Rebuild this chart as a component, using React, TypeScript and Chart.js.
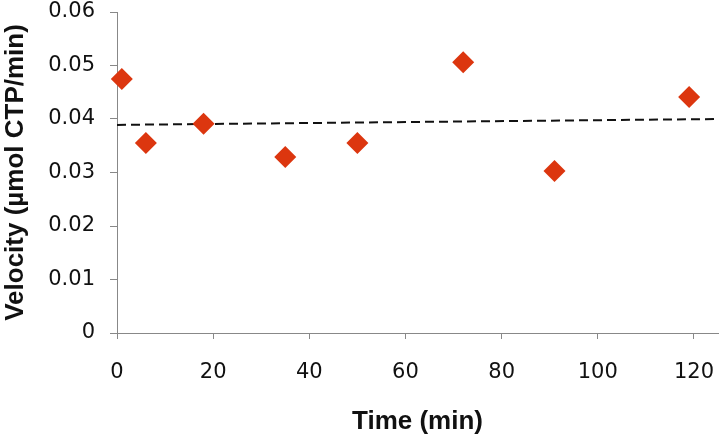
import React, { useEffect, useRef } from "react";
import { Chart, registerables } from "chart.js";

Chart.register(...registerables);

const timeMin = [1, 6, 18, 35, 50, 72, 91, 119];
const velocity = [0.0475, 0.0355, 0.0391, 0.0329, 0.0355, 0.0506, 0.0303, 0.0441];
const trendX = [0, 125];
const trendY = [0.0389, 0.04];
const yTicks = [0, 0.01, 0.02, 0.03, 0.04, 0.05, 0.06];
const xTicks = [0, 20, 40, 60, 80, 100, 120];

export default function App() {
  const ref = useRef<HTMLCanvasElement>(null);
  useEffect(() => {
    const ctx = ref.current!;
    const chart = new Chart(ctx, {
      type: "scatter",
      data: {
        datasets: [
          {
            label: "Velocity",
            data: timeMin.map((x, i) => ({ x, y: velocity[i] })),
            pointStyle: "rectRot",
            pointRadius: 11,
            backgroundColor: "#dc360f",
            borderColor: "#dc360f",
            borderWidth: 0,
            showLine: false,
            clip: false,
          } as any,
          {
            label: "Trend",
            type: "line",
            data: trendX.map((x, i) => ({ x, y: trendY[i] })),
            borderColor: "#111",
            borderWidth: 2,
            borderDash: [9, 5],
            pointRadius: 0,
            fill: false,
          } as any,
        ],
      },
      options: {
        animation: false,
        responsive: false,
        maintainAspectRatio: false,
        layout: { autoPadding: false, padding: { top: 12, right: 4, left: 0, bottom: 0 } },
        plugins: { legend: { display: false }, tooltip: { enabled: false } },
        scales: {
          x: {
            type: "linear",
            min: 0,
            max: 125,
            afterBuildTicks: (s: any) => {
              s.ticks = xTicks.map((v) => ({ value: v }));
            },
            afterFit: (s: any) => {
              s.height = 104;
              s.paddingLeft = 0;
              s.paddingRight = 0;
            },
            grid: {
              display: true,
              drawOnChartArea: false,
              drawTicks: true,
              tickLength: 6,
              color: "#888",
            },
            border: { display: true, color: "#888", width: 1 },
            ticks: {
              color: "#111",
              font: { family: "DejaVu Sans", size: 21 },
              padding: 21,
              maxRotation: 0,
            },
            title: {
              display: true,
              text: "Time (min)",
              color: "#111",
              font: { family: "Liberation Sans", size: 26, weight: "bold" },
              padding: { top: 12, bottom: 0 },
            },
          },
          y: {
            type: "linear",
            min: 0,
            max: 0.06,
            afterBuildTicks: (s: any) => {
              s.ticks = yTicks.map((v) => ({ value: v }));
            },
            afterFit: (s: any) => {
              s.width = 117;
              s.paddingTop = 0;
              s.paddingBottom = 0;
            },
            grid: {
              display: true,
              drawOnChartArea: false,
              drawTicks: true,
              tickLength: 7,
              color: "#888",
            },
            border: { display: true, color: "#888", width: 1 },
            ticks: {
              color: "#111",
              font: { family: "DejaVu Sans", size: 21 },
              padding: 15,
              callback: (v: any) => String(Number(v)),
            },
            title: {
              display: true,
              text: "Velocity (µmol CTP/min)",
              color: "#111",
              font: { family: "Liberation Sans", size: 26, weight: "bold" },
              padding: { top: 0, bottom: 4 },
            },
          },
        },
      },
    });
    return () => chart.destroy();
  }, []);
  return (
    <div style={{ position: "fixed", left: 0, top: 0, width: 722, height: 437, background: "#fff" }}>
      <canvas ref={ref} width={722} height={437} style={{ width: 722, height: 437 }} />
    </div>
  );
}
